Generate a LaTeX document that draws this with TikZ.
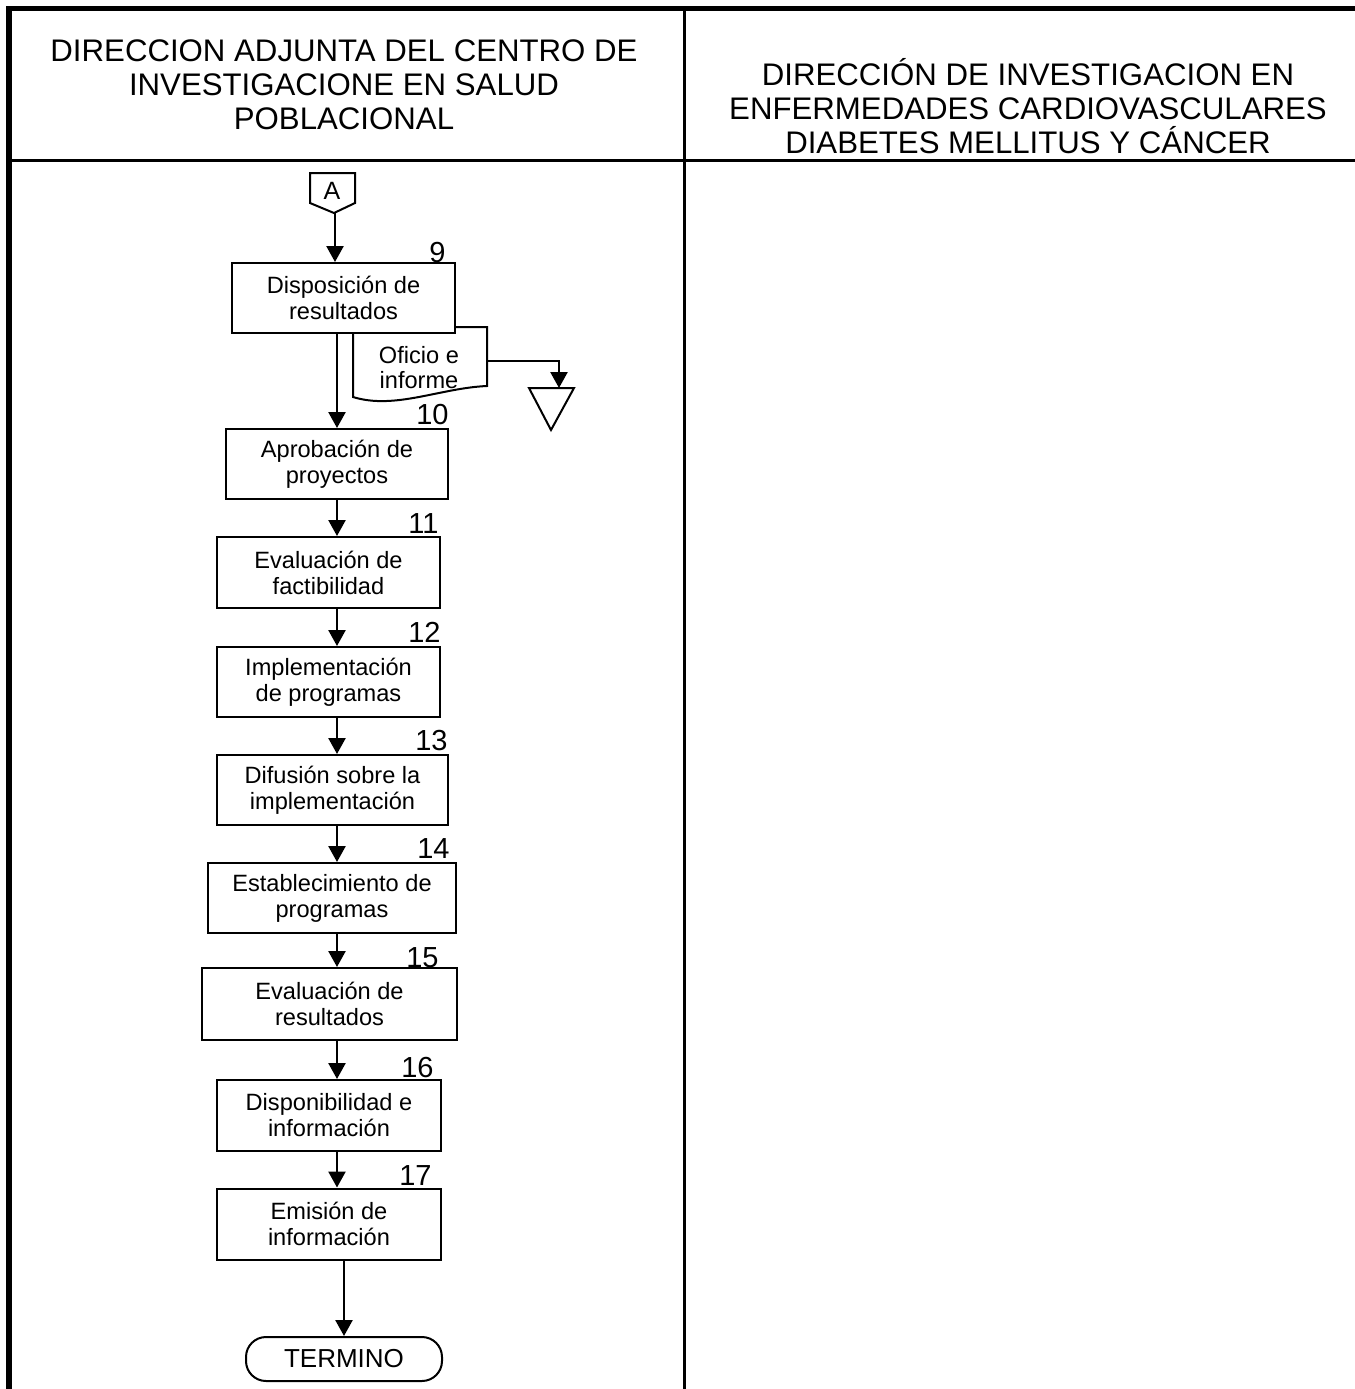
\documentclass[tikz,border=0pt]{standalone}
\usepackage{fontspec}
\setmainfont{Liberation Sans}
\usetikzlibrary{arrows.meta,calc}
\begin{document}
\begin{tikzpicture}[x=0.5pt,y=-0.5pt,
  box/.style={draw, line width=1pt, fill=white, inner sep=0pt, align=center,
    font=\fontsize{11.8}{13}\selectfont},
  num/.style={anchor=base east, inner sep=0pt, font=\fontsize{14.5}{16}\selectfont},
  arr/.style={line width=1.2pt, -{Triangle[length=8pt,width=8.5pt]}},
  head/.style={align=center, inner sep=0pt, font=\fontsize{15.6}{17}\selectfont},
  frame/.style={line width=1.5pt},
  shp/.style={line width=1pt}]
\useasboundingbox (0,0) rectangle (1355,1389);
% table frame
\draw[line width=2.5pt] (6,8) -- (1355,8);
\draw[line width=3pt] (9,6.5) -- (9,1389);
\draw[frame] (684.5,8) -- (684.5,1389);
\draw[frame] (9,160.5) -- (1355,160.5);
% headers
\node[head] (h1) at (344,85) {DIRECCION ADJUNTA DEL CENTRO DE\\INVESTIGACIONE EN SALUD\\POBLACIONAL};
\node[head] (h2) at (1028,106) {DIRECCIÓN DE INVESTIGACION EN\\ENFERMEDADES CARDIOVASCULARES\\DIABETES MELLITUS Y CÁNCER};
% spine coordinate
\coordinate (spine) at (337,0);
% connector A
\draw[shp] (310,173) -- (355,173) -- (355,203) -- (334,213) -- (310,203) -- cycle;
\node[inner sep=0pt, font=\fontsize{12.5}{13}\selectfont] (A) at (332,191) {A};
\coordinate (Abot) at (335,213);
% document shape (behind box 9)
\draw[shp, fill=white] (353,327) -- (487,327) -- (487,386)
  .. controls (440,388) and (395,410) .. (353,397) -- cycle;
\node[inner sep=0pt, align=center, font=\fontsize{11.8}{12.5}\selectfont] (doc) at (419,367.5) {Oficio e\\informe};
\coordinate (docR) at (487,361);
\coordinate (bend) at (559,361);
% triangle (archive)
\draw[shp] (529,388) -- (574,388) -- (551,430) -- cycle;
\coordinate (triTop) at (559,388);
% boxes
\node[box, minimum width=111.5pt, minimum height=35pt] (b9) at (343.5,298) {Disposición de\\resultados};
\node[box, minimum width=111pt, minimum height=35pt] (b10) at (337,464) {Aprobación de\\proyectos};
\node[box, minimum width=111.5pt, minimum height=35.5pt] (b11) at (328.5,572.5) {Evaluación de\\factibilidad};
\node[box, minimum width=111.5pt, minimum height=35pt] (b12) at (328.5,682) {Implementación\\de programas};
\node[box, minimum width=115.5pt, minimum height=35pt] (b13) at (332.5,790) {Difusión sobre la\\implementación};
\node[box, minimum width=124pt, minimum height=35pt] (b14) at (332,898) {Establecimiento de\\programas};
\node[box, minimum width=127.5pt, minimum height=36pt] (b15) at (329.5,1004) {Evaluación de\\resultados};
\node[box, minimum width=112pt, minimum height=35.5pt] (b16) at (329,1115.5) {Disponibilidad e\\información};
\node[box, minimum width=112pt, minimum height=35.5pt] (b17) at (329,1224) {Emisión de\\información};
\node[draw, line width=1pt, rounded corners=10pt, inner sep=0pt, minimum width=98pt, minimum height=22pt,
  font=\fontsize{13}{15}\selectfont] (T) at (344,1359) {TERMINO};
% numbers
\node[num] (n9) at (446,262) {9};
\node[num] (n10) at (449,424) {10};
\node[num] (n11) at (439,533) {11};
\node[num] (n12) at (441,642) {12};
\node[num] (n13) at (448,750) {13};
\node[num] (n14) at (450,858) {14};
\node[num] (n15) at (439,967) {15};
\node[num] (n16) at (434,1077) {16};
\node[num] (n17) at (432,1185) {17};
% connectors
\draw[arr] (Abot) -- (Abot |- b9.north);
\draw[arr] (b9.south -| spine) -- (b10.north -| spine);
\draw[arr] (b10.south -| spine) -- (b11.north -| spine);
\draw[arr] (b11.south -| spine) -- (b12.north -| spine);
\draw[arr] (b12.south -| spine) -- (b13.north -| spine);
\draw[arr] (b13.south -| spine) -- (b14.north -| spine);
\draw[arr] (b14.south -| spine) -- (b15.north -| spine);
\draw[arr] (b15.south -| spine) -- (b16.north -| spine);
\draw[arr] (b16.south -| spine) -- (b17.north -| spine);
\draw[arr] (b17.south -| T.north) -- (T.north);
\draw[arr] (docR) -- (bend) -- (triTop);
\end{tikzpicture}
\end{document}
